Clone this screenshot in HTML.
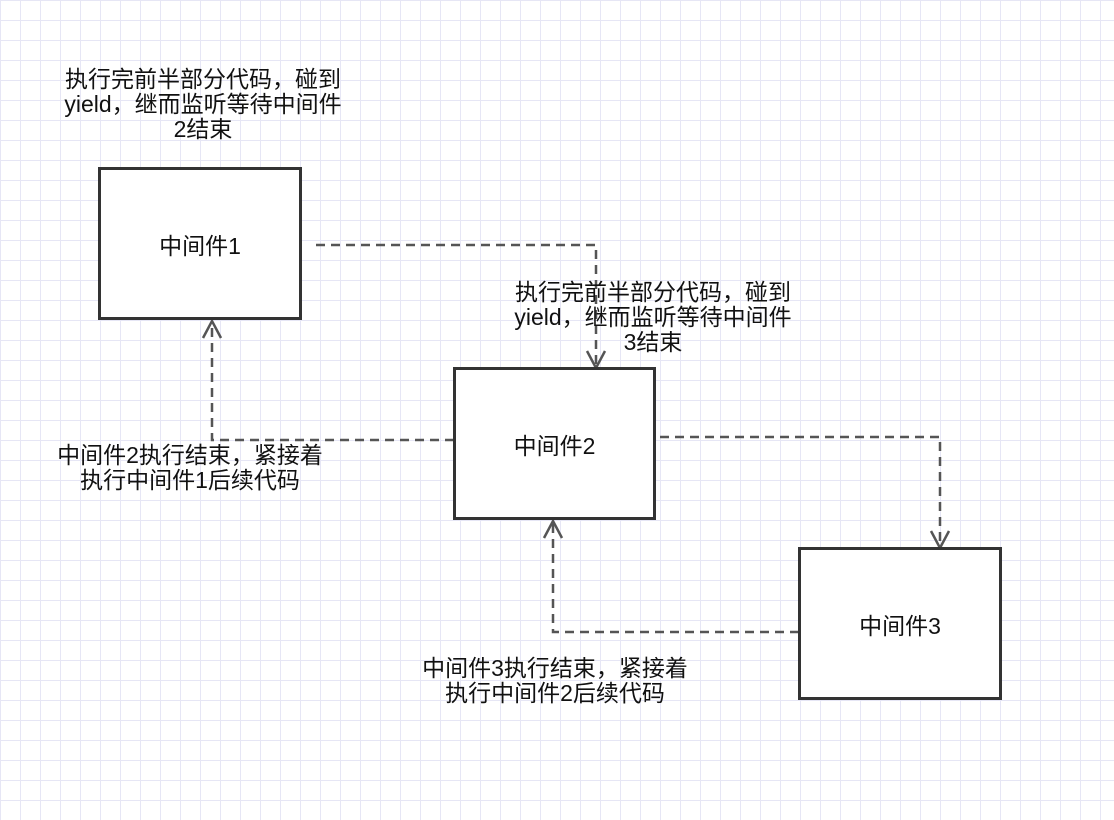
<!DOCTYPE html>
<html><head><meta charset="utf-8"><style>
html,body{margin:0;padding:0}
body{width:1114px;height:820px;position:relative;overflow:hidden;background:#fff;
background-image:linear-gradient(#e6e6f5 1px,transparent 1px),linear-gradient(90deg,#e6e6f5 1px,transparent 1px);
background-size:20px 20px;background-position:0 0;
font-family:"Liberation Sans","Noto Sans CJK SC",sans-serif;color:#111}
.box{position:absolute;border:3px solid #333;background:#fff;box-sizing:border-box;display:flex;align-items:center;justify-content:center;font-size:23px}
.t{position:absolute;font-size:23px;line-height:25px;text-align:center;white-space:nowrap}
svg{position:absolute;left:0;top:0}
</style></head><body>
<svg width="1114" height="820">
<g fill="none" stroke="#555" stroke-width="2.5" stroke-dasharray="9,6">
<path d="M316 245 H596 V366"/>
<path d="M660 437 H940 V546"/>
<path d="M454 440 H212 V322"/>
<path d="M799 632 H553 V522"/>
</g>
<g fill="none" stroke="#555" stroke-width="2.5">
<path d="M587 351 L596 368 L605 351"/>
<path d="M931 531 L940 548 L949 531"/>
<path d="M203 338 L212 321 L221 338"/>
<path d="M544 538 L553 521 L562 538"/>
</g>
</svg>
<div class="box" style="left:98px;top:167px;width:204px;height:153px">中间件1</div>
<div class="box" style="left:453px;top:367px;width:203px;height:153px">中间件2</div>
<div class="box" style="left:798px;top:547px;width:204px;height:153px">中间件3</div>
<div class="t" style="left:43px;top:67px;width:320px">执行完前半部分代码，碰到<br>yield，继而监听等待中间件<br>2结束</div>
<div class="t" style="left:493px;top:280px;width:320px">执行完前半部分代码，碰到<br>yield，继而监听等待中间件<br>3结束</div>
<div class="t" style="left:30px;top:443px;width:320px">中间件2执行结束，紧接着<br>执行中间件1后续代码</div>
<div class="t" style="left:395px;top:656px;width:320px">中间件3执行结束，紧接着<br>执行中间件2后续代码</div>
</body></html>
